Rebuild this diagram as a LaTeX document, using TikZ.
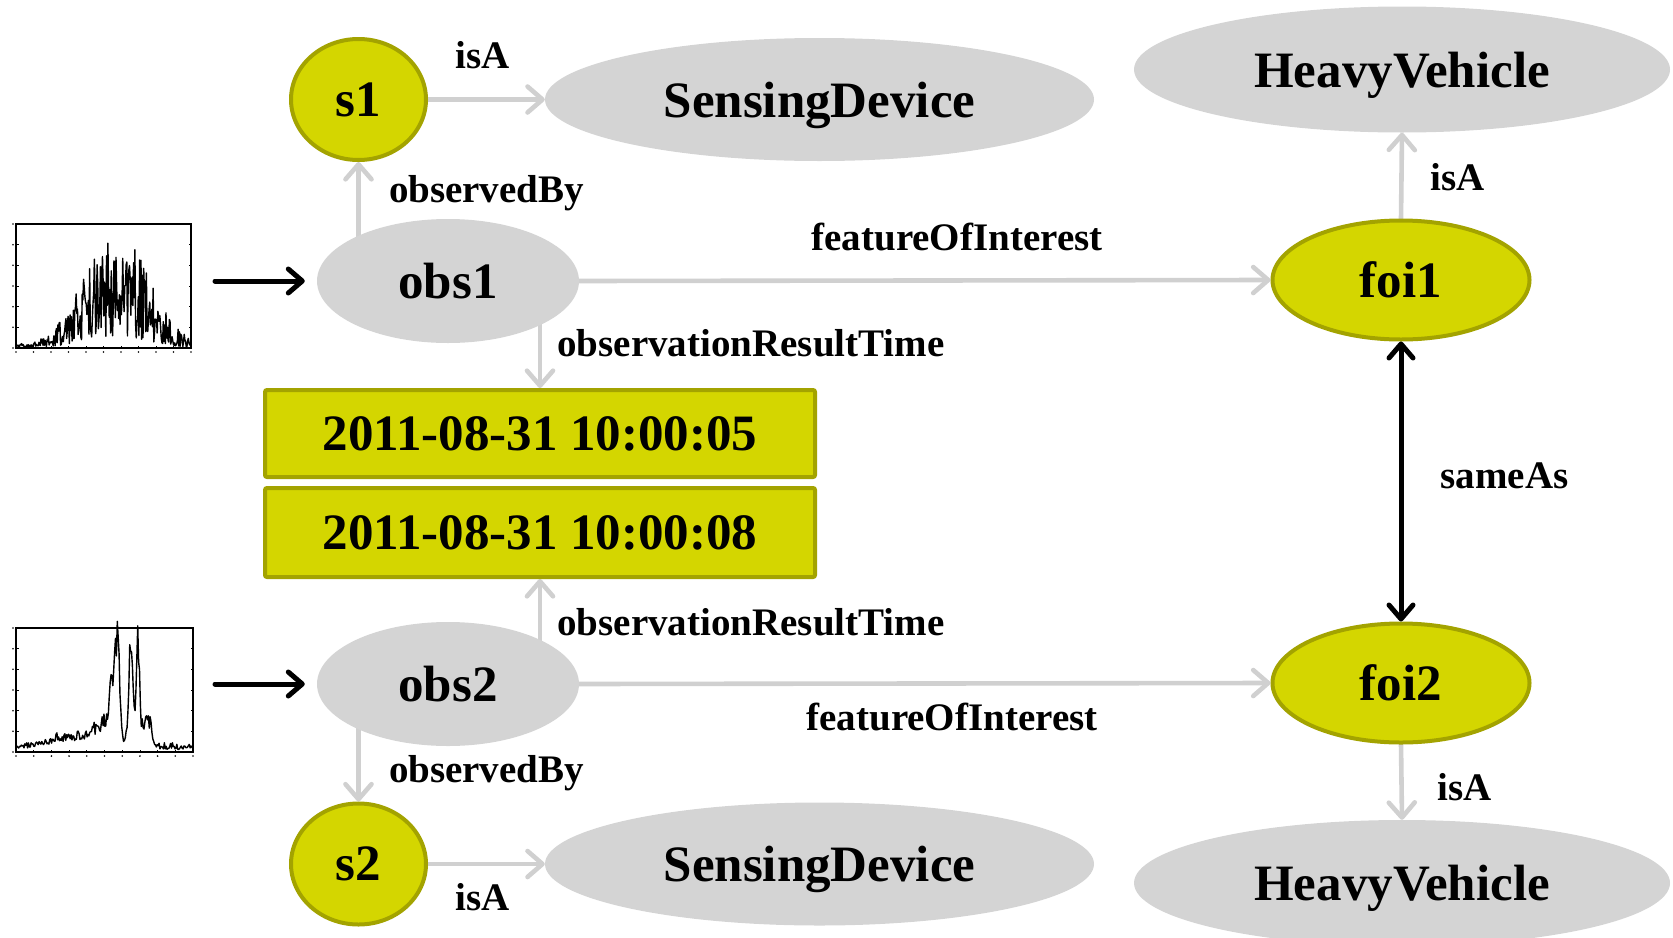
\documentclass[tikz,border=0pt]{standalone}
\usepackage{fontspec}
\setmainfont{Liberation Serif}
\usetikzlibrary{arrows.meta,shapes.geometric,backgrounds}
\definecolor{ylw}{RGB}{212,214,0}
\definecolor{oliv}{RGB}{163,163,0}
\definecolor{lgray}{RGB}{212,212,212}
\definecolor{egray}{RGB}{208,208,208}
\begin{document}
\begin{tikzpicture}[x=1pt,y=-1pt,
  nfont/.style={font=\bfseries\fontsize{51}{60}\selectfont, text depth=0pt},
  yell/.style={ellipse, fill=ylw, draw=oliv, line width=4pt, inner sep=0pt, nfont},
  gell/.style={ellipse, fill=lgray, inner sep=0pt, nfont},
  tbox/.style={rectangle, fill=ylw, draw=oliv, line width=4pt, rounded corners=2pt,
    inner sep=0pt, minimum width=550pt, nfont},
  gedge/.style={draw=egray, line width=4.6pt, line cap=round,
    -{Straight Barb[length=15pt,width=26pt,round]}},
  bedge/.style={draw=black, line width=5pt, line cap=round,
    -{Straight Barb[length=14pt,width=24pt,round]}},
  elabel/.style={font=\bfseries\fontsize{39}{46}\selectfont, inner sep=0pt},
  chartbox/.style={draw=black, line width=1.2pt},
  chartline/.style={draw=black, line width=1.4pt, line join=round},
]
\useasboundingbox (0,0) rectangle (1673,937);

% ---------------- nodes ----------------
\node[yell, minimum width=135pt, minimum height=121pt] (s1) at (358.5,99.5) {s1};
\node[gell, minimum width=549pt, minimum height=123pt] (sd1) at (819.5,99.5) {SensingDevice};
\node[gell, minimum width=536pt, minimum height=126pt] (hv1) at (1402,69.5) {HeavyVehicle};
\node[gell, minimum width=262pt, minimum height=124pt] (obs1) at (448,281) {obs1};
\node[yell, minimum width=257pt, minimum height=119pt] (foi1) at (1401,280) {foi1};
\node[tbox, minimum height=87pt] (box1) at (540,433.5) {2011-08-31 10:00:05};
\node[tbox, minimum height=89pt] (box2) at (540,532.5) {2011-08-31 10:00:08};
\node[gell, minimum width=262pt, minimum height=124pt] (obs2) at (448,684) {obs2};
\node[yell, minimum width=257pt, minimum height=119pt] (foi2) at (1401,683) {foi2};
\node[yell, minimum width=135pt, minimum height=121pt] (s2) at (358.5,864) {s2};
\node[gell, minimum width=549pt, minimum height=123pt] (sd2) at (819.5,864) {SensingDevice};
\node[gell, minimum width=536pt, minimum height=126pt] (hv2) at (1402,883) {HeavyVehicle};

% ---------------- edges ----------------
\begin{pgfonlayer}{background}
\draw[gedge] (s1.east) -- (sd1.west);
\draw[gedge] (s1.south |- obs1.center) -- (s1.south);
\draw[gedge] (obs1.east) -- (foi1.west);
\draw[gedge] (box1.north |- obs1.center) -- (box1.north);
\draw[gedge] (box2.south |- obs2.center) -- (box2.south);
\draw[gedge] (obs2.east) -- (foi2.west);
\draw[gedge] (s2.north |- obs2.center) -- (s2.north);
\draw[gedge] (s2.east) -- (sd2.west);
\draw[gedge] (foi1.north) -- (hv1.south);
\draw[gedge] (foi2.south) -- (hv2.north);
\end{pgfonlayer}
\draw[bedge, {Straight Barb[length=14pt,width=24pt,round]}-{Straight Barb[length=14pt,width=24pt,round]}] (foi1.south) -- (foi2.north);

% ---------------- edge labels ----------------
\node[elabel] (l1) at (483,55) {isA};
\node[elabel] (l2) at (486.5,193) {observedBy};
\node[elabel] (l3) at (957,237) {featureOfInterest};
\node[elabel] (l4) at (751,343.5) {observationResultTime};
\node[elabel] (l5) at (751,622) {observationResultTime};
\node[elabel] (l6) at (952,717) {featureOfInterest};
\node[elabel] (l7) at (486.5,773.5) {observedBy};
\node[elabel] (l8) at (483,897) {isA};
\node[elabel] (l9) at (1457.5,177) {isA};
\node[elabel] (l10) at (1465,787.5) {isA};
\node[elabel] (l11) at (1504.5,476) {sameAs};

% ---------------- charts ----------------
\pgfmathsetseed{11}
% chart 1
\draw[chartline] plot[domain=0:1, samples=260]
  ({16+175*\x}, {348-124*(0.03+0.95*exp(-min(((\x-0.57)/0.25)^2,15)))*(0.1+0.9*rnd^1.2)});
\draw[chartbox] (16,224) rectangle (191,348);
\foreach \i in {0,...,10} {
  \draw[line width=0.8pt] ({16+17.5*\i},348) -- ++(0,-2.5);
  \fill ({16+17.5*\i},352) circle (0.9pt);
}
\foreach \j in {0,...,6} {
  \draw[line width=0.8pt] (16,{348-124/6*\j}) -- ++(2.5,0);
  \draw[line width=0.8pt] (191,{348-124/6*\j}) -- ++(-2.5,0);
  \fill (13,{348-124/6*\j}) circle (0.9pt);
}
% chart 2
\draw[chartline] plot[domain=0:1, samples=200]
  ({16+177*\x}, {752-124*(0.03+0.05*rnd+0.22*exp(-min(((\x-0.5)/0.09)^2,15))
     +0.1*exp(-min(((\x-0.3)/0.15)^2,15))
     +0.6*exp(-min(((\x-0.545)/0.02)^2,15))+0.95*exp(-min(((\x-0.575)/0.016)^2,15))
     +0.95*exp(-min(((\x-0.65)/0.018)^2,15))+1.0*exp(-min(((\x-0.69)/0.014)^2,15))
     +0.3*exp(-min(((\x-0.74)/0.03)^2,15)))*(0.6+0.4*rnd)});
\draw[chartbox] (16,628) rectangle (193,752);
\foreach \i in {0,...,10} {
  \draw[line width=0.8pt] ({16+17.7*\i},752) -- ++(0,-2.5);
  \fill ({16+17.7*\i},756) circle (0.9pt);
}
\foreach \j in {0,...,6} {
  \draw[line width=0.8pt] (16,{752-124/6*\j}) -- ++(2.5,0);
  \draw[line width=0.8pt] (193,{752-124/6*\j}) -- ++(-2.5,0);
  \fill (13,{752-124/6*\j}) circle (0.9pt);
}

% chart arrows
\coordinate (c1) at (215,281);
\coordinate (c2) at (215,684);
\draw[bedge, shorten >=12pt] (c1) -- (obs1.west);
\draw[bedge, shorten >=12pt] (c2) -- (obs2.west);
\end{tikzpicture}
\end{document}
